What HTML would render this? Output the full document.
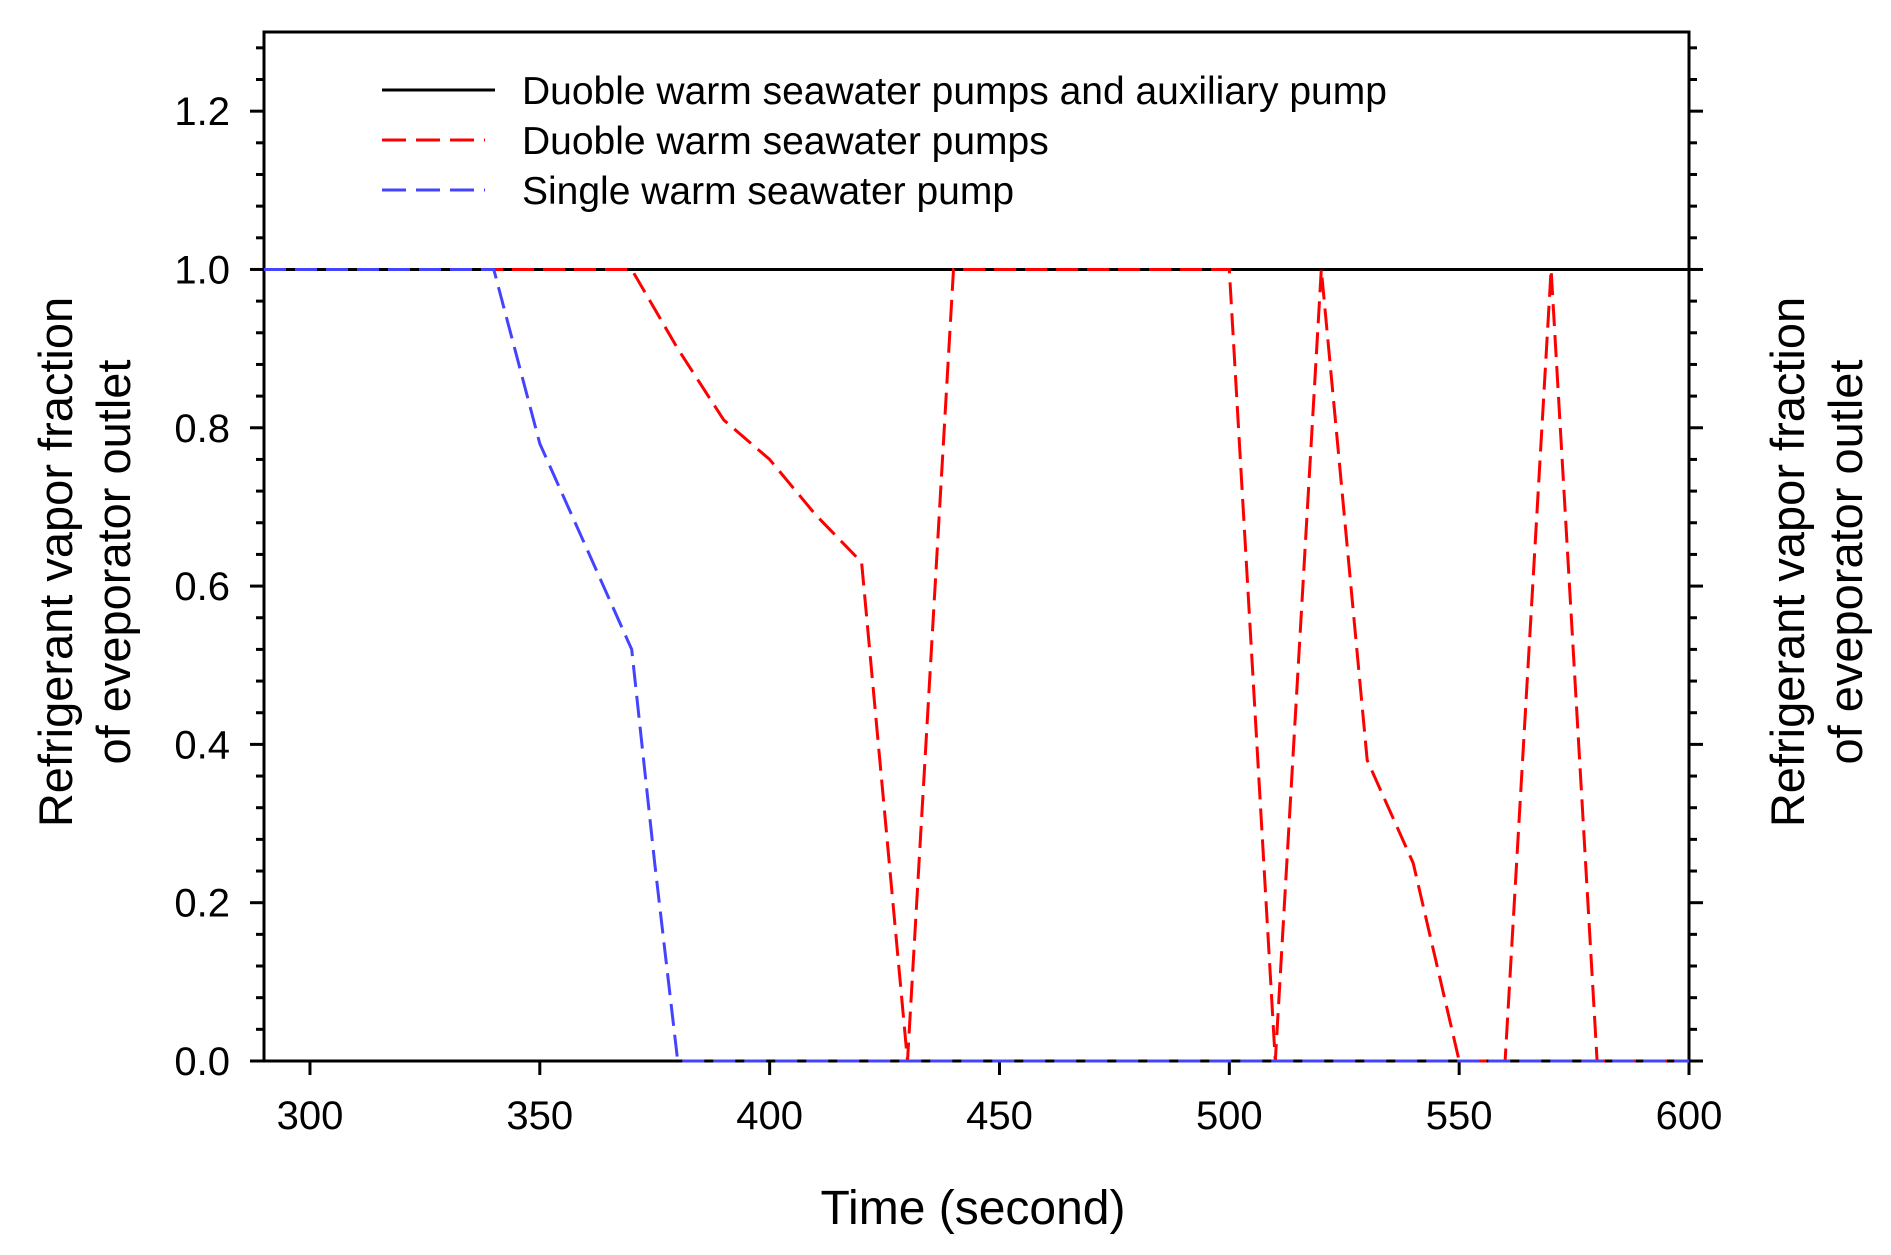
<!DOCTYPE html>
<html><head><meta charset="utf-8"><style>
html,body{margin:0;padding:0;background:#fff;}
svg{display:block;font-family:"Liberation Sans",Arial,sans-serif;}
</style></head><body>
<svg id="chart" width="1891" height="1255" viewBox="0 0 1891 1255" xmlns="http://www.w3.org/2000/svg">
<g id="axes"></g>
<g id="series"></g>
<g id="legend">
  <line x1="382" y1="90" x2="495" y2="90" stroke="#000" stroke-width="3"/>
  <text x="522" y="104" font-size="39">Duoble warm seawater pumps and auxiliary pump</text>
  <line x1="382" y1="140" x2="485" y2="140" stroke="#f00" stroke-width="3" stroke-dasharray="24,10"/>
  <text x="522" y="154" font-size="39">Duoble warm seawater pumps</text>
  <line x1="382" y1="190" x2="485" y2="190" stroke="#44f" stroke-width="3" stroke-dasharray="24,10"/>
  <text x="522" y="204" font-size="39">Single warm seawater pump</text>
</g>
<text x="973" y="1224" font-size="48" text-anchor="middle">Time (second)</text>
<text transform="translate(72,562) rotate(-90)" font-size="47" text-anchor="middle"><tspan x="0" y="0">Refrigerant vapor fraction</tspan><tspan x="0" y="58">of eveporator outlet</tspan></text>
<text transform="translate(1804,562) rotate(-90)" font-size="47" text-anchor="middle"><tspan x="0" y="0">Refrigerant vapor fraction</tspan><tspan x="0" y="58">of eveporator outlet</tspan></text>
</svg>
<script>
const xTicks = [300,350,400,450,500,550,600];
const yTicks = [0.0,0.2,0.4,0.6,0.8,1.0,1.2];
const yTickLabels = ["0.0","0.2","0.4","0.6","0.8","1.0","1.2"];
const blackX = [290,600];
const blackY = [1,1];
const redX = [290,370,380,390,400,410,420,430,440,500,510,520,530,540,550,560,570,580,600];
const redY = [1,1,0.9,0.81,0.76,0.69,0.63,0,1,1,0,1,0.38,0.25,0,0,1,0,0];
const blueX = [290,340,350,360,370,375,380,600];
const blueY = [1,1,0.78,0.65,0.52,0.25,0,0];

const X0=290,X1=600,Y0=0,Y1=1.3;
const L=264,R=1689,T=32,B=1061;
const sx=v=>L+(v-X0)/(X1-X0)*(R-L);
const sy=v=>B-(v-Y0)/(Y1-Y0)*(B-T);
const NS="http://www.w3.org/2000/svg";
function mk(tag,attrs,parent){const e=document.createElementNS(NS,tag);for(const k in attrs)e.setAttribute(k,attrs[k]);parent.appendChild(e);return e;}
const axes=document.getElementById('axes');
const frame=mk('rect',{x:L,y:T,width:R-L,height:B-T,fill:'none',stroke:'#000','stroke-width':3},axes);


for(let v=0;v<=1.3001;v+=0.04){
  const y=sy(v);
  const major=yTicks.some(t=>Math.abs(t-v)<1e-6);
  const len=major?14:8;
  const t1=mk('line',{x1:L-len,y1:y,x2:L,y2:y,stroke:'#000','stroke-width':3},axes);
  
  
  const t2=mk('line',{x1:R,y1:y,x2:R+len,y2:y,stroke:'#000','stroke-width':3},axes);
  
  
}
yTicks.forEach((v,i)=>{
  const t=mk('text',{x:L-34,y:sy(v)+14,'font-size':40,'text-anchor':'end'},axes);
  t.textContent=yTickLabels[i];
  
  
});
xTicks.forEach(v=>{
  const x=sx(v);
  const l=mk('line',{x1:x,y1:B,x2:x,y2:B+14,stroke:'#000','stroke-width':3},axes);
  
  
  const t=mk('text',{x:x,y:B+68,'font-size':40,'text-anchor':'middle'},axes);
  t.textContent=String(v);
  
  
});
const series=document.getElementById('series');
function draw(xs,ys,color,dash,name){
  const pts=xs.map((x,i)=>sx(x).toFixed(1)+','+sy(ys[i]).toFixed(1)).join(' ');
  const p=mk('polyline',{points:pts,fill:'none',stroke:color,'stroke-width':3,'stroke-dasharray':dash},series);
  
  
}
draw(blackX,blackY,'#000','none','series-double-pumps-auxiliary');
draw(redX,redY,'#f00','22,9','series-double-pumps');
draw(blueX,blueY,'#44f','22,9','series-single-pump');
</script>
</body></html>
